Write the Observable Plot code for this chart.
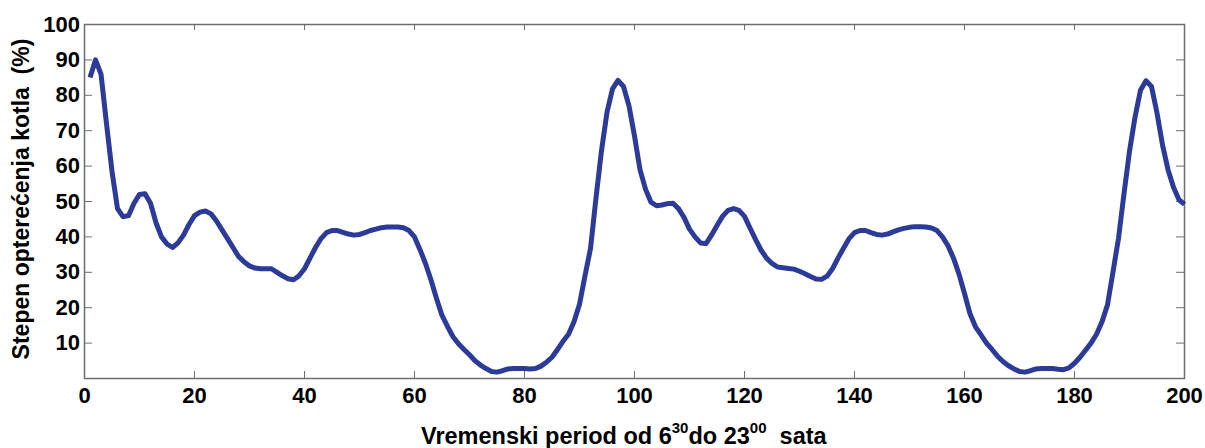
<!DOCTYPE html>
<html>
<head>
<meta charset="utf-8">
<script src="https://cdn.jsdelivr.net/npm/d3@7"></script>
<script src="https://cdn.jsdelivr.net/npm/@observablehq/plot@0.6"></script>
<style>
  html, body { margin: 0; padding: 0; background: #fff; }
  #chart svg { display: block; }
</style>
</head>
<body>
<div id="chart"></div>
<script>
// Time steps (x) and boiler load values (%)
const steps = d3.range(1, 201);
const load = [
  85, 90, 86, 72, 58.5, 48, 45.7, 46, 49.5, 52,
  52.2, 49.5, 44, 40, 38, 37, 38.3, 40.5, 43.5, 46,
  47, 47.3, 46.5, 44.5, 42, 39.5, 37, 34.5, 33, 31.8,
  31.2, 31, 31, 31, 30, 29, 28.2, 27.9, 29, 31,
  34, 37, 39.5, 41.2, 41.8, 41.8, 41.3, 40.8, 40.5, 40.7,
  41.2, 41.8, 42.2, 42.6, 42.8, 42.8, 42.8, 42.6, 41.8, 40,
  36.4, 32.5, 27.8, 22.6, 17.8, 14.7, 11.8, 9.8, 8.2, 6.7,
  5, 3.8, 2.8, 2, 1.8, 2.2, 2.7, 2.8, 2.8, 2.8,
  2.7, 2.8, 3.5, 4.6, 6, 8.2, 10.5, 12.5, 16, 21,
  29, 36.7, 51, 64.4, 75.2, 81.8, 84.2, 82.5, 77, 68.5,
  59, 53.5, 49.8, 48.8, 49, 49.4, 49.5, 48, 45.5, 42.2,
  40, 38.3, 38.1, 40.5, 43.2, 45.8, 47.5, 48, 47.5, 45.8,
  42.5, 39.3, 36.3, 34, 32.5, 31.5, 31.3, 31.1, 30.9, 30.3,
  29.6, 28.8, 28.1, 28, 28.9, 31, 34, 36.8, 39.5, 41.2,
  41.8, 41.8, 41.2, 40.7, 40.5, 40.8, 41.4, 42, 42.4, 42.7,
  42.9, 42.9, 42.8, 42.5, 41.8, 40, 37.5, 34, 29.5, 24,
  18.3, 14.6, 12.3, 10, 8.2, 6.3, 4.8, 3.6, 2.7, 2,
  1.8, 2.2, 2.7, 2.8, 2.8, 2.8, 2.6, 2.5, 3, 4.3,
  6, 8, 10, 12.5, 16, 20.8, 30.1, 39.6, 52.2, 64.2,
  73.8, 81.4, 84.1, 82.5, 75, 66, 59, 54, 50.5, 49.2
];
const xTicks = [0, 20, 40, 60, 80, 100, 120, 140, 160, 180, 200];
const yTicks = [10, 20, 30, 40, 50, 60, 70, 80, 90, 100];
const yLabel = "Stepen opterećenja kotla  (%)";
const xLabelParts = [
  {text: "Vremenski period od 6", sup: false},
  {text: "30", sup: true},
  {text: "do 23", sup: false},
  {text: "00", sup: true},
  {text: "  sata", sup: false}
];

const data = steps.map((s, i) => ({x: s, y: load[i]}));
const frameColor = "#6e6e6e";

const chart = Plot.plot({
  width: 1205,
  height: 448,
  marginLeft: 84,
  marginRight: 21,
  marginTop: 24,
  marginBottom: 70,
  style: {fontFamily: "'Liberation Sans', Arial, sans-serif", fontSize: "22px", fontWeight: "bold", color: "#000", background: "#fff"},
  x: {domain: [0, 200], nice: false},
  y: {domain: [0, 100], nice: false},
  marks: [
    Plot.axisX({anchor: "bottom", ticks: xTicks, tickSize: -7, tickPadding: 15.5, stroke: frameColor, label: null}),
    Plot.axisX({anchor: "top", ticks: xTicks, tickSize: -5, tickFormat: () => "", stroke: frameColor, label: null}),
    Plot.axisY({anchor: "left", ticks: yTicks, tickSize: -8, tickPadding: 12.5, stroke: frameColor, label: null}),
    Plot.axisY({anchor: "right", ticks: yTicks, tickSize: -9, tickFormat: () => "", stroke: frameColor, label: null}),
    Plot.frame({stroke: frameColor, strokeWidth: 1.5}),
    Plot.line(data, {x: "x", y: "y", stroke: "#2c3a98", strokeWidth: 5, strokeLinejoin: "round", strokeLinecap: "butt"})
  ]
});

const svg = d3.select(chart);
// Y axis title
svg.append("text")
  .attr("transform", "translate(21,199) rotate(-90)")
  .attr("text-anchor", "middle")
  .attr("dominant-baseline", "central")
  .style("white-space", "pre")
  .style("font-size", "23px")
  .style("font-weight", "bold")
  .attr("fill", "#000")
  .text(yLabel);

// X axis title with superscripts
const xt = svg.append("text")
  .attr("x", 421)
  .attr("y", 444)
  .attr("text-anchor", "start")
  .style("white-space", "pre")
  .style("font-size", "23.5px")
  .style("font-weight", "bold")
  .attr("fill", "#000");
xLabelParts.forEach((p, i) => {
  const t = xt.append("tspan").text(p.text);
  if (p.sup) t.style("font-size", "15px").attr("dy", "-11");
  else if (i > 0) t.attr("dy", "11");
});

document.getElementById("chart").appendChild(chart);
</script>
</body>
</html>
